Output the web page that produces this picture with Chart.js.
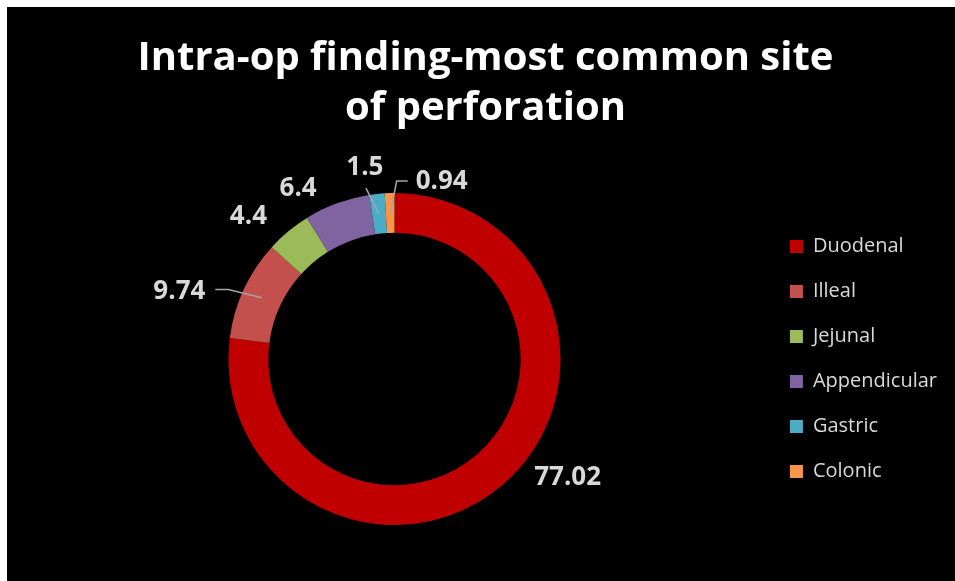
<!DOCTYPE html>
<html>
<head>
<meta charset="utf-8">
<script src="https://cdn.jsdelivr.net/npm/chart.js@4"></script>
<style>
    html, body { margin: 0; padding: 0; background: #ffffff; }
    #wrap { position: absolute; left: 7px; top: 7px; width: 948px; height: 574px; background: #000000; }
</style>
</head>
<body>
<div id="wrap"><canvas id="donutChart" width="948" height="574"></canvas></div>
<script>

// chart values
let siteLabels = ['Duodenal', 'Illeal', 'Jejunal', 'Appendicular', 'Gastric', 'Colonic'];
let siteValues = [77.02, 9.74, 4.4, 6.4, 1.5, 0.94];
let valueText = ['77.02', '9.74', '4.4', '6.4', '1.5', '0.94'];
let sliceColors = ['#C00000', '#C4504D', '#9BBB59', '#8064A2', '#4BACC6', '#F79646'];

// where the value labels sit, relative to the default spot just outside the ring
let labelNudge = [[45, -27], [-39, 14], [-22, 7], [-29, 12], [-9, 2], [53, 17]];
// leader lines: start offset from label centre, then a short flat run towards the ring
let leaderStart = [null, [36, -2], null, null, [1, 20], [-34, -1]];
let leaderRun = [0, 13, 0, 0, 0, -11];


// draws the value labels and leader lines off the arcs
const valueLabelPlugin = {
    id: 'valueLabels',
    afterDatasetsDraw(chart) {
        const ctx = chart.ctx;
        const meta = chart.getDatasetMeta(0);
        ctx.save();
        meta.data.forEach(function(arc, i) {
            const p = arc.getProps(['x', 'y', 'startAngle', 'endAngle', 'outerRadius', 'innerRadius'], true);
            const mid = (p.startAngle + p.endAngle) / 2;
            const r = p.outerRadius + 28;
            const lx = p.x + Math.cos(mid) * r + labelNudge[i][0];
            const ly = p.y + Math.sin(mid) * r + labelNudge[i][1];

            // leader line into the middle of the slice
            if (leaderStart[i]) {
                const ringR = (p.outerRadius + p.innerRadius) / 2;
                const ex = p.x + Math.cos(mid) * ringR;
                const ey = p.y + Math.sin(mid) * ringR;
                const sx = lx + leaderStart[i][0];
                const sy = ly + leaderStart[i][1];
                ctx.beginPath();
                ctx.moveTo(sx, sy);
                if (leaderRun[i] != 0) {
                    ctx.lineTo(sx + leaderRun[i], sy);
                }
                ctx.lineTo(ex, ey);
                ctx.strokeStyle = '#A6A6A6';
                ctx.lineWidth = 1.5;
                ctx.stroke();
            }

            ctx.font = 'bold 26px "Open Sans"';
            ctx.fillStyle = '#D9D9D9';
            ctx.textAlign = 'center';
            ctx.textBaseline = 'middle';
            ctx.fillText(valueText[i], lx, ly);
        });
        ctx.restore();
    }
};


function renderChart() {

    const data = {
        labels: siteLabels,
        datasets: [{
            data: siteValues,
            backgroundColor: sliceColors,
            borderWidth: 0
        }]
    };

    const config = {
        type: 'doughnut',
        data: data,
        options: {
            responsive: false,
            animation: false,
            cutout: '76%',
            layout: {
                padding: { left: 17, right: 8, top: 0, bottom: 56 }
            },
            plugins: {
                tooltip: { enabled: false },
                title: {
                    display: true,
                    text: ['Intra-op finding-most common site', 'of perforation'],
                    color: '#FFFFFF',
                    font: { family: 'Open Sans', size: 40, weight: 'bold', lineHeight: 1.25 },
                    padding: { top: 27, bottom: 59 }
                },
                legend: {
                    display: true,
                    position: 'right',
                    fullSize: false,
                    labels: {
                        color: '#D9D9D9',
                        boxWidth: 13,
                        boxHeight: 13,
                        padding: 25,
                        font: { family: 'Open Sans', size: 20 }
                    }
                }
            }
        },
        plugins: [valueLabelPlugin]
    };

    const myChart = new Chart(document.getElementById('donutChart'), config);
}

renderChart();
</script>
</body>
</html>
